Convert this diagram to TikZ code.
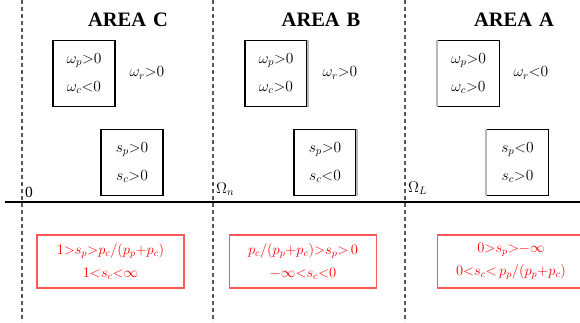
\RequirePackage{fix-cm}
\documentclass[tikz,border=0pt]{standalone}
\usepackage{fontspec}
\setmainfont{Liberation Serif}
\begin{document}
\begin{tikzpicture}[x=1pt,y=-1pt,every node/.style={font=\fontsize{15.5}{17}\selectfont},
  wbox/.style={draw,line width=1.6pt,minimum width=62pt,minimum height=66pt,align=center,inner sep=0pt},
  rbox/.style={draw=red!65,line width=1.8pt,text=red,minimum width=147pt,minimum height=53pt,align=center,inner sep=0pt,font=\fontsize{14.5}{16}\selectfont},
  zone/.style={black!65,line width=1.4pt,dash pattern=on 4pt off 3pt},
  title/.style={font=\fontsize{20.5}{22}\selectfont\bfseries}]
\useasboundingbox (0,0) rectangle (580,322);
\coordinate (zc) at (22,0);\coordinate (zb) at (213,0);\coordinate (za) at (405,0);
\draw[zone] (zc) -- (22,322) (zb) -- (213,322) (za) -- (405,322);
\coordinate (ax0) at (5,202);\coordinate (ax1) at (580,202);
\draw[line width=1.5pt] (ax0) -- (ax1);
\node[title] (tc) at (128,20) {AREA\,\,C};\node[title] (tb) at (321,20) {AREA\,\,B};\node[title] (ta) at (514,20) {AREA\,\,A};
% frequencies
\node[wbox] (wc) at (84,73.5) {$\omega_p{>}0$\\[11pt]$\omega_c{<}0$};\node (rc) at (147,73) {$\omega_r{>}0$};
\node[wbox] (wb) at (276,73.5) {$\omega_p{>}0$\\[11pt]$\omega_c{>}0$};\node (rb) at (340,73) {$\omega_r{>}0$};
\node[wbox] (wa) at (468.5,73.5) {$\omega_p{>}0$\\[11pt]$\omega_c{>}0$};\node (ra) at (531,73) {$\omega_r{<}0$};
% slips
\node[wbox] (sc) at (132,162.5) {$s_p{>}0$\\[11pt]$s_c{>}0$};
\node[wbox] (sb) at (325,162.5) {$s_p{>}0$\\[11pt]$s_c{<}0$};
\node[wbox] (sa) at (517.5,162.5) {$s_p{<}0$\\[11pt]$s_c{>}0$};
\draw[gray!55,line width=2.4pt] (wb.north east) -- (wb.south east) (sb.north east) -- (sb.south east);
\draw[gray!55,line width=2.4pt] (wa.north west) -- (wa.south west) (sa.north west) -- (sa.south west);
% speeds
\node[anchor=south west,inner sep=1pt] (o0) at (24,199) {0};
\node[anchor=south west,inner sep=1pt] (on) at (215,197) {$\Omega_n$};
\node[anchor=south west,inner sep=1pt] (ol) at (407,196) {$\Omega_L$};
% ranges
\node[rbox] (gc) at (110.5,261.5) {$1{>}s_p{>}p_c/(p_p{+}p_c)$\\[7pt]$1{<}s_c{<}\infty$};
\node[rbox] (gb) at (303,261.5) {$p_c/(p_p{+}p_c){>}s_p{>}\,0$\\[7pt]$-\infty{<}s_c{<}0$};
\node[rbox] (ga) at (511,261.5) {$0{>}s_p{>}{-}\infty$\\[7pt]$0{<}s_c{<}\,p_p/(p_p{+}p_c)$};
\end{tikzpicture}
\end{document}
